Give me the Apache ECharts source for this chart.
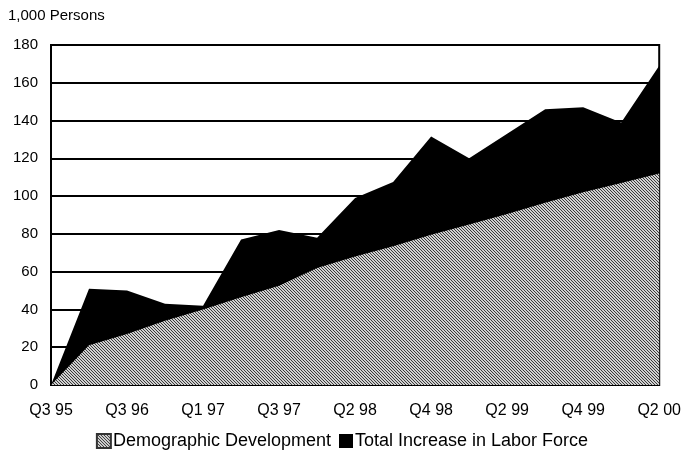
<!DOCTYPE html>
<html>
<head>
<meta charset="utf-8">
<script src="https://cdn.jsdelivr.net/npm/echarts@6/dist/echarts.min.js"></script>
<style>
  html, body { margin: 0; padding: 0; background: #fff; }
  #chart { width: 684px; height: 464px; }
</style>
</head>
<body>
<div id="chart"></div>
<script>
// quarter labels, only every other one is shown on the axis
var categories = ['Q3 95', 'Q1 96', 'Q3 96', 'Q4 96', 'Q1 97', 'Q2 97', 'Q3 97', 'Q4 97', 'Q2 98',
  'Q3 98', 'Q4 98', 'Q1 99', 'Q2 99', 'Q3 99', 'Q4 99', 'Q1 00', 'Q2 00'];
var totalIncrease = [0, 51, 50, 43, 42, 77, 82, 78, 99, 107.5, 131.5, 120, 133, 146, 147, 139, 169];
var demographic = [0, 21, 27, 34, 40, 46.5, 52.5, 62, 68, 73.5, 79.5, 85, 90.5, 96.5, 102, 107, 112];
var yTicks = [0, 20, 40, 60, 80, 100, 120, 140, 160, 180];

// hatched grey fill
function makeHatch() {
  var c = document.createElement('canvas');
  c.width = 3; c.height = 3;
  var ctx = c.getContext('2d');
  ctx.fillStyle = '#d0d0d0';
  ctx.fillRect(0, 0, 3, 3);
  ctx.fillStyle = '#3a3a3a';
  for (var i = 0; i < 3; i++) {
    ctx.fillRect(i, i, 1, 1);
  }
  return c;
}
var hatch = { image: makeHatch(), repeat: 'repeat' };

var chart = echarts.init(document.getElementById('chart'));
chart.setOption({
  animation: false,
  textStyle: { fontFamily: 'Liberation Sans, Arial, sans-serif', color: '#000' },
  grid: {
    left: 51, right: 22, top: 45, bottom: 79,
    show: true, borderColor: '#000', borderWidth: 2
  },
  legend: {
    bottom: 9,
    left: 'center',
    itemWidth: 14,
    itemHeight: 14,
    itemGap: 8,
    icon: 'rect',
    data: ['Demographic Development', 'Total Increase in Labor Force'],
    textStyle: { fontSize: 18, color: '#000', padding: [0, 0, 0, -3] }
  },
  xAxis: {
    type: 'category',
    data: categories,
    boundaryGap: false,
    axisLine: { show: false },
    axisTick: { show: false },
    axisLabel: { interval: 1, fontSize: 16, color: '#000', margin: 18 },
    splitLine: { show: false }
  },
  yAxis: {
    type: 'value',
    min: yTicks[0],
    max: yTicks[yTicks.length - 1],
    interval: 20,
    name: '1,000 Persons',
    nameLocation: 'end',
    nameGap: 22,
    nameTextStyle: { fontSize: 15, color: '#000', align: 'left', padding: [0, 0, 0, -43] },
    axisLine: { show: false },
    axisTick: { show: false },
    axisLabel: { fontSize: 15, color: '#000', margin: 13 },
    splitLine: { show: true, lineStyle: { color: '#000', width: 2 } }
  },
  series: [
    {
      name: 'Total Increase in Labor Force',
      type: 'line',
      data: totalIncrease,
      symbol: 'none',
      lineStyle: { width: 0 },
      itemStyle: { color: '#000' },
      areaStyle: { color: '#000', opacity: 1 },
      z: 2
    },
    {
      name: 'Demographic Development',
      type: 'line',
      data: demographic,
      symbol: 'none',
      lineStyle: { width: 0 },
      itemStyle: { color: hatch, borderColor: '#333', borderWidth: 1 },
      areaStyle: { color: hatch, opacity: 1 },
      z: 3
    }
  ]
});
</script>
</body>
</html>
